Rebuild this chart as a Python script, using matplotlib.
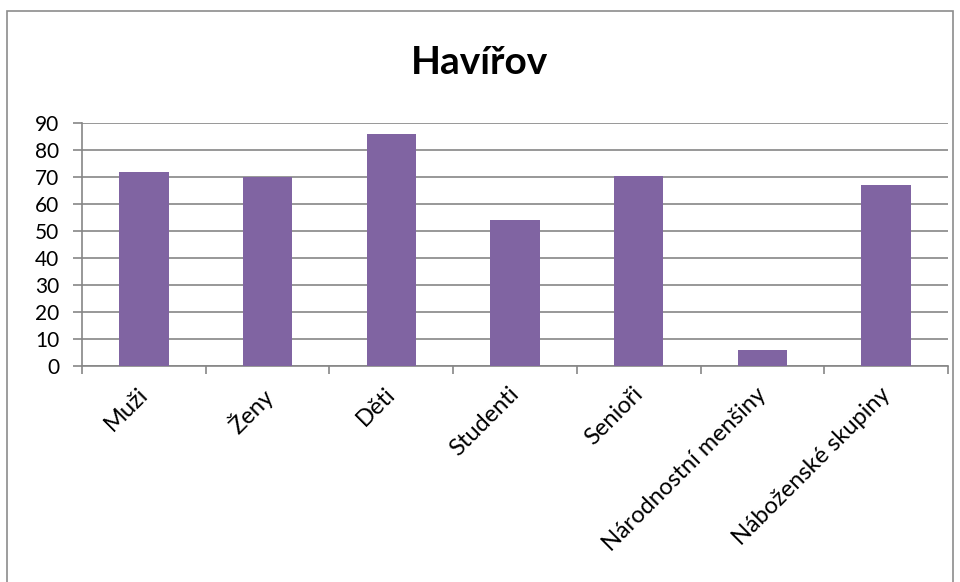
import matplotlib
matplotlib.use("Agg")
import matplotlib.pyplot as plt
from matplotlib.patches import Rectangle
from matplotlib.transforms import ScaledTranslation

categories = ["Muži", "Ženy", "Děti", "Studenti", "Senioři",
              "Národnostní menšiny", "Náboženské skupiny"]
values = [72, 70, 85.7, 54, 70.3, 6.1, 67]
title = "Havířov"

plt.rcParams["font.family"] = ["Lato", "DejaVu Sans"]

fig = plt.figure(figsize=(9.6, 5.82), dpi=100)
ax = fig.add_axes([0.0854, 0.3706, 0.9021, 0.4184])

grid_col = "#868686"
ax.bar(range(len(categories)), values, width=0.4, color="#8064A2", zorder=3)

ax.set_xlim(-0.5, len(categories) - 0.5)
ax.set_ylim(0, 90)
ax.set_yticks(range(0, 91, 10))
ax.yaxis.grid(True, color=grid_col, linewidth=1.2, zorder=0)

ax.set_xticks(range(len(categories)))
ax.set_xticklabels(categories, rotation=45, ha="right", rotation_mode="anchor", fontsize=17)
ax.tick_params(axis="x", which="major", length=0, pad=16)
ax.set_xticks([i - 0.5 for i in range(len(categories) + 1)], minor=True)
ax.tick_params(axis="x", which="minor", length=6, width=1.2, color=grid_col, direction="out")
ax.tick_params(axis="y", length=6.5, width=1.2, color=grid_col, labelsize=15, pad=10)

# nudge the rotated labels so they end just right of the category centre
shift = ScaledTranslation(-0.07, 0.05, fig.dpi_scale_trans)
for lab in ax.get_xticklabels():
    lab.set_transform(lab.get_transform() + shift)

for s in ["top", "right"]:
    ax.spines[s].set_visible(False)
for s in ["left", "bottom"]:
    ax.spines[s].set_color(grid_col)
    ax.spines[s].set_linewidth(1.2)

fig.text(0.5, 0.893, title, ha="center", va="center", fontsize=28, fontweight="bold")

# outer chart border
fig.patches.append(Rectangle((7 / 960, -0.05), 946 / 960, 1.05 - 11 / 582,
                             transform=fig.transFigure, fill=False,
                             edgecolor="#8c8c8c", linewidth=1.2))

fig.savefig("out.png", dpi=100)
